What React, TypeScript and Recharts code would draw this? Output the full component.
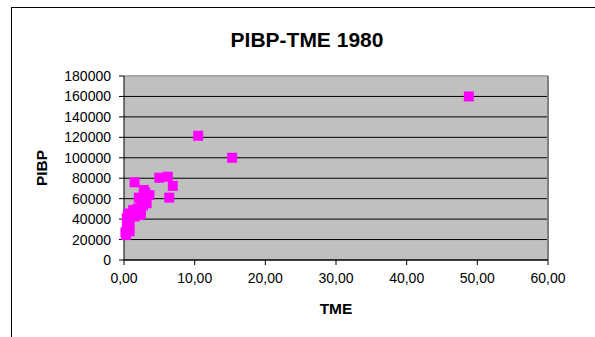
import React from "react";
import {
  ScatterChart,
  Scatter,
  XAxis,
  YAxis,
  CartesianGrid,
  ReferenceLine,
} from "recharts";

// TME (x) and PIBP (y), 1980
const tme = [
  48.8, 10.5, 15.3, 1.5, 5.0, 6.2, 6.9, 6.4, 2.8, 3.6, 3.2, 2.5, 2.7, 2.0, 1.3,
  0.6, 0.4, 0.8, 0.4, 0.3, 0.8, 1.5, 2.2, 2.1, 3.0, 1.0, 0.2, 1.8, 2.4, 0.5,
];
const pibp = [
  160000, 121500, 100000, 76000, 80500, 81500, 72500, 61000, 68500, 63500,
  55500, 58500, 53500, 50500, 49000, 45500, 41000, 37500, 31000, 24500, 28000,
  42500, 44000, 61000, 66000, 44000, 27000, 47000, 46000, 35000,
];
const xTicks = [0, 10, 20, 30, 40, 50, 60];
const yTicks = [0, 20000, 40000, 60000, 80000, 100000, 120000, 140000, 160000, 180000];

const FONT = '"Liberation Sans", Arial, sans-serif';

const points = tme.map((x, i) => ({ x, y: pibp[i] }));

const Square = (props: any) => {
  const { cx, cy } = props;
  return <rect x={cx - 5} y={cy - 5} width={10} height={10} fill="#FF00FF" />;
};

export default function App() {
  return (
    <div
      style={{
        position: "absolute",
        left: 0,
        top: 0,
        width: 595,
        height: 337,
        background: "#fff",
        fontFamily: FONT,
        overflow: "hidden",
      }}
    >
      <div
        style={{
          position: "absolute",
          left: 11,
          top: 7,
          width: 584,
          height: 330,
          borderLeft: "1px solid #000",
          borderTop: "1px solid #000",
        }}
      />
      <div
        style={{
          position: "absolute",
          left: 0,
          top: 28,
          width: 614,
          lineHeight: "24px",
          textAlign: "center",
          fontSize: 21,
          fontWeight: "bold",
          color: "#000",
        }}
      >
        PIBP-TME 1980
      </div>
      <div
        style={{
          position: "absolute",
          left: 236,
          top: 300,
          width: 200,
          lineHeight: "18px",
          textAlign: "center",
          fontSize: 15.5,
          fontWeight: "bold",
        }}
      >
        TME
      </div>
      <div
        style={{
          position: "absolute",
          left: -58,
          top: 159,
          width: 200,
          lineHeight: "18px",
          textAlign: "center",
          fontSize: 15.5,
          fontWeight: "bold",
          transform: "rotate(-90deg)",
        }}
      >
        PIBP
      </div>
      <div style={{ position: "absolute", left: 0, top: 0 }}>
        <ScatterChart
          width={595}
          height={337}
          margin={{ top: 76, right: 47, bottom: 47, left: 64 }}
        >
          <CartesianGrid
            horizontal
            vertical={false}
            stroke="#000"
            fill="#C0C0C0"
            fillOpacity={1}
          />
          <ReferenceLine y={180000} stroke="#a8a8a8" strokeWidth={2} />
          <ReferenceLine x={60} stroke="#808080" strokeWidth={2} />
          <XAxis
            type="number"
            dataKey="x"
            domain={[0, 60]}
            ticks={xTicks}
            interval={0}
            height={30}
            tickSize={5}
            tickMargin={8}
            tickFormatter={(v: number) => v.toFixed(2).replace(".", ",")}
            tick={{ fill: "#000", fontSize: 14, fontFamily: FONT }}
            axisLine={{ stroke: "#000" }}
            tickLine={{ stroke: "#000" }}
          />
          <YAxis
            type="number"
            dataKey="y"
            domain={[0, 180000]}
            ticks={yTicks}
            interval={0}
            width={60}
            tickSize={5}
            tickMargin={8}
            tick={{ fill: "#000", fontSize: 14, fontFamily: FONT }}
            axisLine={{ stroke: "#000" }}
            tickLine={{ stroke: "#000" }}
          />
          <Scatter data={points} shape={Square} isAnimationActive={false} />
        </ScatterChart>
      </div>
    </div>
  );
}
